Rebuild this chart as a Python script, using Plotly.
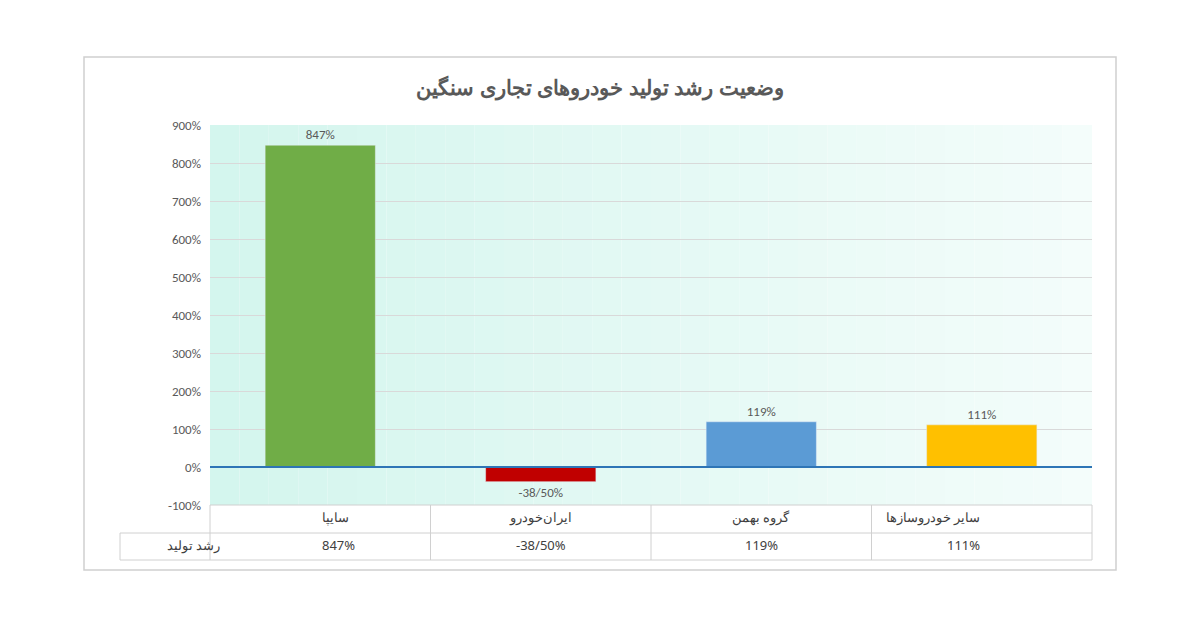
import plotly.graph_objects as go

categories = ["سایپا", "ایران‌خودرو", "گروه بهمن", "سایر خودروسازها"]
values = [847, -38.5, 119, 111]
value_labels = ["847%", "-38/50%", "119%", "111%"]
table_labels = ["847%", "-38/50%", "119%", "111%"]
colors = ["#70ad47", "#c00000", "#5b9bd5", "#ffc000"]
series_name = "رشد تولید"
title = "وضعیت رشد تولید خودروهای تجاری سنگین"
tick_vals = list(range(-100, 1000, 100))
tick_text = [f"{v}%" for v in tick_vals]

OFF = 8  # page body margin
W, H = 1200 - 2 * OFF, 627 - 2 * OFF
L, R, T, B = 210 - OFF, 1092 - OFF, 125 - OFF, 505 - OFF
def px(x): return (x - OFF - L) / (R - L)
def py(y): return (B - (y - OFF)) / (B - T)

fig = go.Figure(go.Bar(
    x=categories, y=values, marker_color=colors, width=0.5,
    text=value_labels, textposition="outside", cliponaxis=False,
    textfont=dict(size=13, color="#595959", family="Calibri, Liberation Sans, sans-serif"),
))

shapes = []
n = 30
for i in range(n):
    t = i / (n - 1)
    r = int(212 + (244 - 212) * t); g = int(246 + (253 - 246) * t); b = int(238 + (251 - 238) * t)
    shapes.append(dict(type="rect", xref="paper", yref="paper", x0=i / n, x1=(i + 1) / n, y0=0, y1=1,
                       fillcolor=f"rgb({r},{g},{b})", line_width=0, layer="below"))
shapes.append(dict(type="rect", xref="paper", yref="paper", x0=px(84), x1=px(1116), y0=py(570), y1=py(57),
                   line=dict(color="#d0d0d0", width=1.5)))
line = dict(color="#d0d0d0", width=1)
shapes.append(dict(type="line", xref="paper", yref="paper", x0=0, x1=1, y0=py(505), y1=py(505), line=line))
for yy in (533, 560):
    shapes.append(dict(type="line", xref="paper", yref="paper", x0=px(120), x1=1, y0=py(yy), y1=py(yy), line=line))
shapes.append(dict(type="line", xref="paper", yref="paper", x0=px(120), x1=px(120), y0=py(560), y1=py(533), line=line))
colw = (R - L) / 4
for i in range(5):
    xx = L + OFF + i * colw
    shapes.append(dict(type="line", xref="paper", yref="paper", x0=px(xx), x1=px(xx), y0=py(560), y1=py(505), line=line))
shapes.append(dict(type="line", xref="paper", yref="y", x0=0, x1=1, y0=0, y1=0, line=dict(color="#2e75b6", width=2)))

ann = []
f = dict(size=13, color="#404040", family="Noto Sans, sans-serif")
for i, c in enumerate(categories):
    cx = px(L + OFF + (i + 0.5) * colw)
    ann.append(dict(text=c, x=cx, y=py(528), xref="paper", yref="paper", showarrow=False, font=f))
    ann.append(dict(text=table_labels[i], x=cx, y=py(556), xref="paper", yref="paper", showarrow=False, font=f))
ann.append(dict(text=series_name, x=px(165), y=py(556), xref="paper", yref="paper", showarrow=False, font=f))

fig.update_layout(
    width=W, height=H, margin=dict(l=L, r=W - R, t=T, b=H - B),
    paper_bgcolor="white", plot_bgcolor="rgba(0,0,0,0)", showlegend=False,
    title=dict(text=f"<b>{title}</b>", x=0.5, xanchor="center", y=1 - (88 - OFF) / H, yanchor="middle",
               font=dict(size=21, color="#595959", family="Noto Sans, sans-serif")),
    shapes=shapes, annotations=ann,
    xaxis=dict(showticklabels=False, showgrid=False, zeroline=False),
    yaxis=dict(range=[-100, 900], tickvals=tick_vals, ticktext=tick_text, showgrid=True,
               gridcolor="#d9d9d9", zeroline=False, ticks="", ticklabelstandoff=8,
               tickfont=dict(size=13, color="#595959", family="Calibri, Liberation Sans, sans-serif")),
)
fig.write_html("out.html")
